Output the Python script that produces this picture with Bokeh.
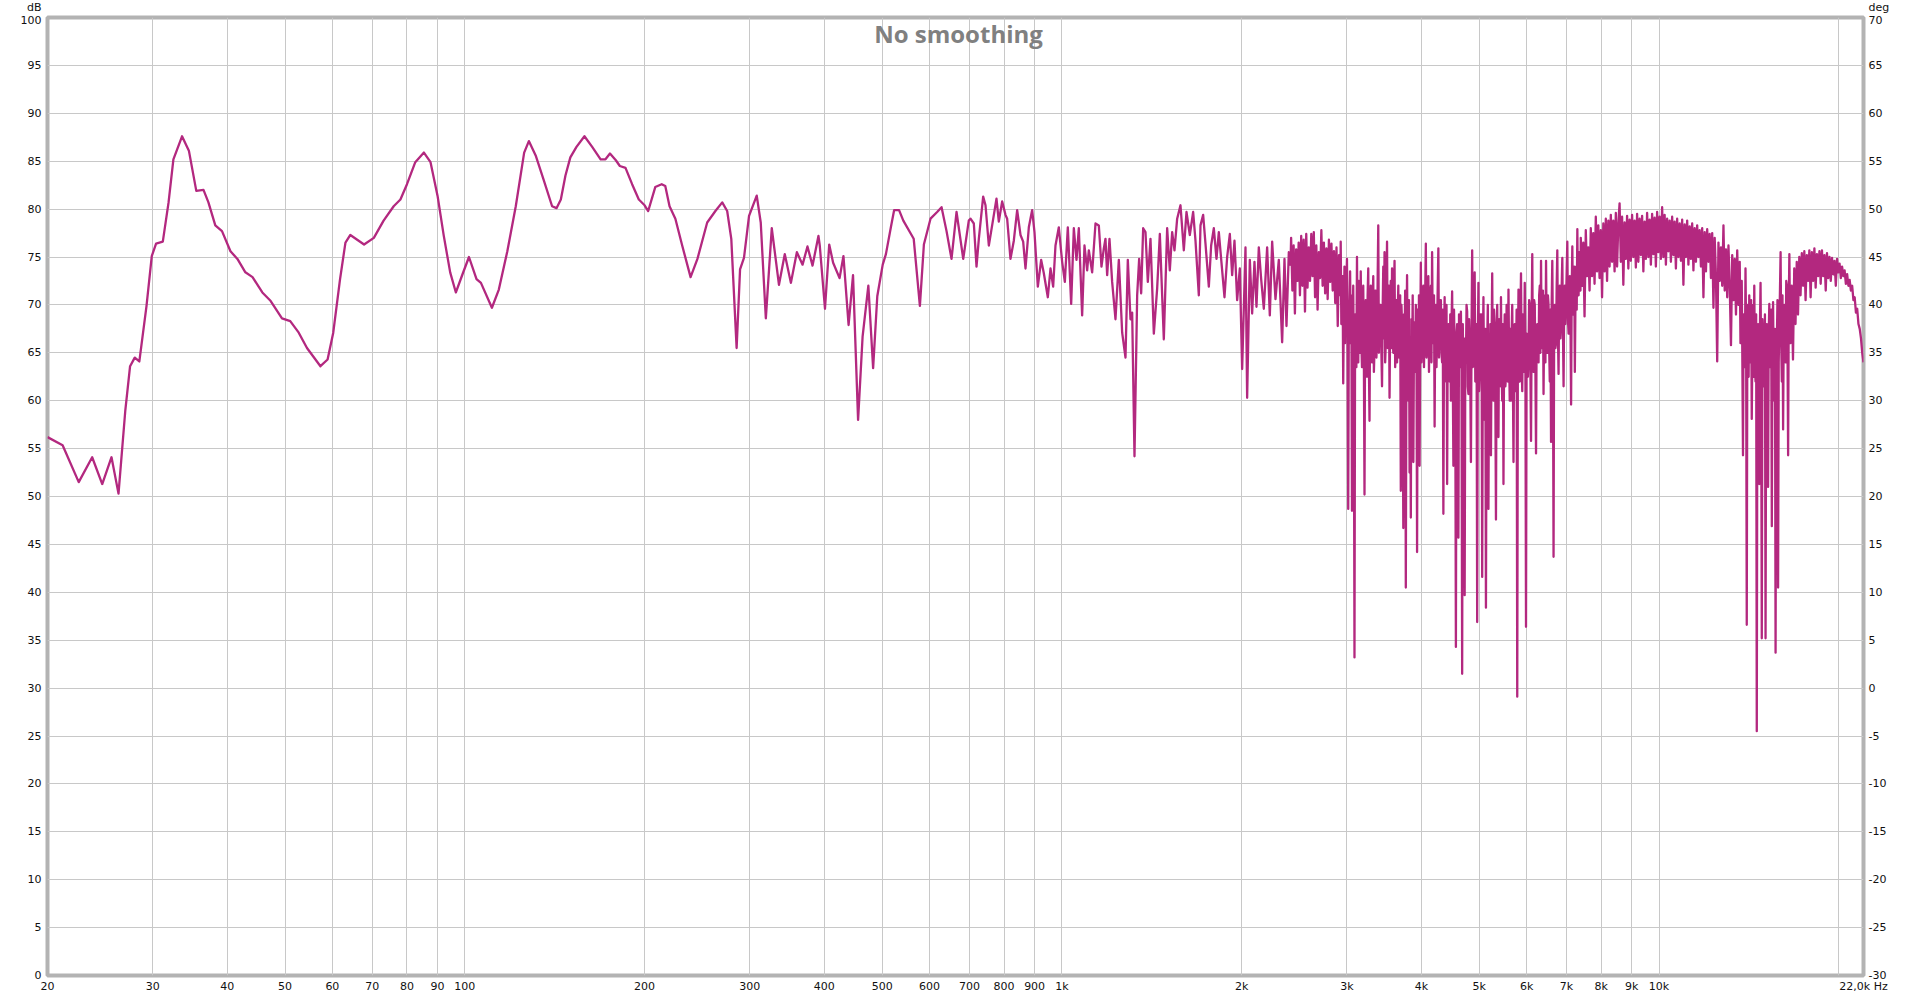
import numpy as np
from bokeh.plotting import figure
from bokeh.models import Range1d, LinearAxis, FixedTicker, Label, CustomJSTickFormatter
from bokeh.embed import file_html
from bokeh.resources import INLINE

# ---------------- data ----------------
# smooth low-frequency part: frequency (Hz) and level (dB)
lf_freq_hz = [20.0, 21.2, 22.56, 23.76, 24.7, 25.6, 26.3, 27.0, 27.5, 28.0, 28.5, 29.3, 29.9,
              30.4, 31.2, 31.9, 32.5, 33.6, 34.5, 35.5, 36.5, 37.2, 38.2, 39.2, 40.5, 41.6,
              42.9, 44.1, 45.8, 47.3, 49.4, 51.0, 52.7, 54.4, 57.3, 58.9, 60.2, 61.8, 63.1,
              64.3, 67.8, 70.4, 73.1, 76.0, 78.0, 80.0, 82.6, 85.4, 87.6, 90.0, 92.2, 94.5,
              96.6, 99.1, 101.6, 104.6, 106.4, 111.0, 114.0, 117.8, 121.7, 125.7, 128.0,
              131.4, 135.6, 140.0, 142.4, 144.8, 147.4, 150.2, 153.8, 158.6, 163.4, 168.8,
              172.0, 175.0, 179.0, 181.8, 185.8, 190.6, 195.6, 200.0, 202.8, 208.4, 213.6,
              216.6, 220.2, 225.2, 231.2, 238.8, 245.2, 254.6, 262.8, 269.8, 275.0, 279.4,
              285.2, 289.0, 293.4, 299.2, 308.2, 313.0, 319.2, 326.6, 335.8, 343.4, 351.6,
              359.8, 367.8, 374.8, 382.2, 391.0, 393.0, 401.0, 407.6, 413.8, 424.2, 430.6,
              439.2, 446.8, 455.6, 463.6, 474.0, 482.8, 490.6, 501.0, 507.2, 517.0, 523.6,
              533.6, 542.4, 564.6, 578.2, 587.2, 602.4, 618.0, 628.6, 640.8, 653.2, 666.0,
              683.4, 698.2]
lf_level_db = [56.2, 55.35, 51.5, 54.1, 51.3, 54.1, 50.3, 59.0, 63.6, 64.5, 64.1, 69.9, 75.1,
               76.4, 76.6, 80.7, 85.2, 87.6, 86.1, 81.9, 82.0, 80.7, 78.3, 77.7, 75.6, 74.8,
               73.4, 72.9, 71.3, 70.4, 68.6, 68.3, 67.1, 65.5, 63.6, 64.3, 67.1, 72.7, 76.5,
               77.3, 76.3, 77.0, 78.8, 80.3, 81.0, 82.6, 84.9, 85.9, 84.9, 81.4, 77.2, 73.4,
               71.3, 73.2, 75.0, 72.7, 72.3, 69.7, 71.6, 75.6, 80.3, 85.9, 87.1,
               85.6, 83.0, 80.3, 80.1, 81.0, 83.5, 85.4, 86.5, 87.6, 86.5, 85.2,
               85.2, 85.8, 85.1, 84.5, 84.3, 82.6, 81.0, 80.4, 79.8, 82.3, 82.6,
               82.4, 80.3, 79.0, 76.2, 72.9, 74.8, 78.6, 79.8, 80.7, 79.8, 76.9,
               65.5, 73.7, 74.9, 79.3, 81.4, 78.6, 68.6, 78.0, 72.1, 75.3, 72.3,
               75.5, 74.2, 76.1, 74.1, 77.2, 76.2, 69.6, 76.3, 74.4, 72.8, 75.1,
               67.9, 73.1, 58.0, 66.7, 72.0, 63.4, 70.9, 74.2, 75.3, 78.1, 79.9,
               79.9, 78.8, 76.9, 69.9, 76.3, 79.0, 79.7, 80.2, 77.7, 74.8, 79.7,
               74.8, 78.8]

# mid part (700 Hz - 2.4 kHz)
mid_freq_hz = [702.8, 711.9, 719.3, 725.8, 738.0, 744.7, 754.3, 764.0, 776.9, 783.9,
               794.1, 804.4, 809.5, 820.0, 830.6, 841.4, 852.3, 861.1, 868.9, 880.1,
               891.5, 899.5, 911.2, 923.0, 932.5, 947.0, 956.8, 966.7, 975.4, 988.0,
               1000.8, 1011.2, 1022.9, 1036.2, 1046.9, 1057.7, 1067.2, 1081.0, 1090.8, 1102.1,
               1109.2, 1123.5, 1138.1, 1152.8, 1164.7, 1175.3, 1182.8, 1190.5, 1201.2, 1213.6,
               1229.3, 1245.3, 1261.4, 1277.7, 1289.2, 1302.6, 1311.0, 1322.8, 1336.5, 1346.8,
               1357.3, 1367.8, 1380.1, 1392.6, 1407.0, 1425.2, 1443.6, 1458.6, 1481.2, 1500.4,
               1515.9, 1529.6, 1543.4, 1559.4, 1579.5, 1600.0, 1616.5, 1637.4, 1658.6, 1673.6,
               1695.3, 1706.2, 1723.8, 1739.4, 1761.9, 1777.8, 1796.2, 1814.8, 1831.2, 1847.7,
               1871.6, 1891.0, 1910.5, 1927.8, 1945.2, 1965.3, 1985.6, 2003.6, 2029.5, 2042.5,
               2063.7, 2082.3, 2101.1, 2117.4, 2136.5, 2155.9, 2178.1, 2206.3, 2229.1, 2249.3,
               2278.4, 2307.8, 2337.7, 2358.8, 2377.1, 2398.6, 2414.0]
mid_level_db = [79.0, 78.5, 74.0, 76.9, 81.3, 80.4, 76.2, 78.3, 81.1, 78.7,
                80.8, 79.4, 79.0, 74.8, 76.7, 79.9, 77.3, 76.6, 73.8, 78.1,
                79.9, 77.6, 71.9, 74.7, 73.3, 70.8, 73.8, 71.9, 76.2, 78.1,
                74.5, 72.4, 78.1, 70.1, 78.0, 74.7, 78.0, 68.9, 76.2, 73.6,
                75.7, 73.4, 78.5, 78.3, 74.0, 75.9, 76.9, 73.1, 76.9, 72.4,
                68.5, 74.7, 67.1, 64.5, 74.7, 68.5, 69.2, 54.2, 71.0, 74.8,
                71.2, 78.0, 77.6, 72.4, 76.9, 67.0, 71.7, 77.4, 66.4, 78.0,
                73.6, 77.6, 75.7, 79.0, 80.4, 75.7, 79.7, 77.3, 79.7, 76.7,
                71.0, 78.3, 79.4, 76.4, 71.9, 76.2, 78.0, 74.8, 77.6, 74.8,
                70.8, 75.0, 77.4, 73.1, 76.7, 70.5, 73.8, 63.3, 76.0, 60.3,
                74.7, 69.1, 74.5, 69.8, 76.0, 72.7, 69.6, 76.0, 68.9, 76.6,
                70.6, 74.7, 66.1, 74.8, 67.8, 75.5, 74.1]

# dense high-frequency parts: each list is spread evenly (log) between its limits
hf_1_start_hz, hf_1_end_hz = 2420.0, 2925.0
hf_1_level_db = [
    77.0, 71.5, 76.2, 69.1, 75.8, 72.5, 76.5, 71.0,
    77.2, 72.0, 76.8, 69.3, 77.4, 71.8, 76.0, 72.5,
    77.4, 73.0, 77.6, 70.8, 76.2, 69.5, 75.5, 72.8,
    77.8, 72.0, 76.5, 71.2, 75.9, 70.6, 76.8, 72.4,
    76.4, 71.5, 75.6, 70.2, 76.0, 67.8, 75.2, 71.0]

hf_2_start_hz, hf_2_end_hz = 2930.0, 7386.0
hf_2_level_db = [
    76.6, 68.0, 70.5, 73.0, 61.8, 69.5, 74.0, 66.0, 71.0, 72.5, 74.8, 65.0, 48.7, 69.0, 70.0, 73.5,
    66.0, 71.0, 48.5, 67.0, 72.0, 63.0, 33.2, 69.0, 68.0, 63.5, 75.0, 66.5, 64.0, 72.5, 70.5, 65.0,
    73.5, 66.0, 63.5, 70.0, 72.0, 64.5, 50.2, 68.5, 70.5, 65.5, 62.5, 71.0, 73.8, 64.0, 57.9, 69.0,
    72.0, 67.0, 64.0, 70.5, 73.0, 63.0, 65.5, 71.5, 71.5, 64.5, 66.0, 72.5, 78.3, 65.0, 68.0, 70.0,
    70.0, 65.0, 61.5, 69.5, 74.0, 66.5, 75.5, 64.0, 66.0, 71.0, 76.6, 65.5, 68.0, 72.0, 60.3, 68.5,
    72.5, 65.5, 73.8, 67.0, 65.0, 71.5, 74.6, 63.5, 66.5, 70.5, 64.0, 69.0, 72.0, 64.5, 69.0, 71.0,
    50.6, 70.0, 68.0, 62.0, 46.7, 69.0, 66.0, 71.5, 40.5, 67.0, 73.1, 63.5, 60.0, 70.5, 52.5, 66.0,
    47.8, 68.5, 64.0, 71.0, 53.6, 66.0, 68.2, 63.0, 70.0, 66.5, 44.2, 69.5, 62.0, 71.0, 53.2, 67.0,
    74.4, 64.0, 66.0, 70.5, 72.0, 63.5, 68.0, 71.5, 76.4, 64.5, 65.5, 70.0, 73.0, 63.0, 69.0, 71.0,
    72.0, 64.0, 75.5, 66.5, 66.0, 71.0, 57.3, 68.5, 70.0, 63.5, 67.5, 72.0, 75.9, 64.5, 68.0, 70.5,
    70.5, 65.0, 64.0, 69.5, 48.2, 66.0, 70.8, 63.0, 62.0, 70.0, 51.3, 67.5, 68.0, 63.5, 62.0, 69.0,
    60.0, 68.0, 71.4, 63.0, 53.2, 69.5, 65.0, 61.5, 34.3, 67.0, 68.0, 62.0, 45.7, 69.0, 66.0, 63.5,
    69.3, 63.0, 31.5, 68.0, 62.0, 66.5, 39.7, 64.5, 64.0, 70.0, 69.3, 61.5, 60.7, 68.5, 66.0, 62.5,
    53.6, 67.0, 75.7, 63.5, 64.0, 70.5, 73.4, 62.0, 62.0, 68.0, 36.9, 66.0, 72.3, 61.0, 63.0, 69.0,
    64.0, 69.0, 41.6, 65.0, 70.8, 61.5, 58.0, 67.5, 38.4, 63.0, 66.0, 70.0, 48.7, 64.5, 62.0, 68.0,
    54.3, 66.0, 73.3, 62.0, 60.0, 69.5, 68.0, 61.0, 47.6, 65.5, 70.0, 62.5, 56.2, 68.5, 66.5, 61.5,
    70.8, 63.5, 60.0, 68.0, 51.3, 65.0, 69.0, 61.5, 62.5, 70.0, 67.0, 62.0, 71.6, 64.5, 60.0, 67.5,
    60.0, 67.0, 70.0, 62.5, 53.6, 66.0, 68.0, 61.0, 64.0, 69.5, 29.1, 65.0, 71.6, 63.0, 62.0, 68.5,
    73.3, 64.0, 61.0, 69.0, 68.0, 63.0, 72.3, 65.5, 36.4, 67.0, 66.0, 62.5, 64.5, 70.5, 70.0, 63.5,
    55.8, 68.0, 75.3, 64.0, 63.0, 70.5, 70.0, 63.5, 54.5, 67.5, 68.0, 64.5, 64.0, 71.0, 72.0, 65.0,
    74.6, 65.5, 66.0, 71.5, 60.7, 68.0, 71.0, 64.0, 74.6, 66.5, 65.0, 71.0, 70.0, 65.5, 62.0, 69.5,
    55.7, 70.0, 74.6, 66.0, 43.7, 69.5, 70.0, 65.5, 66.0, 72.0, 75.7, 67.0, 62.8, 71.0, 72.0, 66.5,
    68.0, 72.0, 74.9, 67.5, 61.5, 70.5, 72.0, 68.0, 70.4, 73.5, 76.6, 68.5, 67.0, 72.5, 73.0, 69.0,
    59.6, 71.5, 76.1, 69.0, 70.0, 74.0, 63.0, 70.5, 74.0, 69.5, 77.9, 71.0, 71.0, 75.5, 75.0, 71.5]

hf_3_start_hz, hf_3_end_hz = 7395.0, 13650.0
hf_3_level_db = [
    77.0, 72.0, 76.5, 68.8, 77.8, 73.0, 76.0, 71.5,
    78.0, 73.0, 77.5, 72.2, 79.2, 73.5, 78.3, 72.8,
    77.8, 70.8, 78.5, 73.5, 79.0, 72.5, 78.8, 74.0,
    79.4, 74.5, 78.8, 73.5, 79.6, 74.0, 78.5, 80.6,
    74.5, 79.2, 72.1, 78.6, 74.8, 79.3, 73.8, 78.9,
    74.6, 79.4, 75.0, 78.8, 73.9, 79.5, 74.5, 79.0,
    75.2, 79.3, 73.5, 78.7, 74.8, 79.6, 75.0, 78.9,
    74.2, 79.5, 75.3, 79.1, 74.0, 79.7, 75.5, 79.2,
    74.8, 80.2, 75.0, 79.4, 74.2, 79.0, 75.6, 78.8,
    74.5, 79.2, 75.2, 78.7, 73.8, 79.0, 75.0, 78.5,
    74.6, 78.9, 72.1, 78.4, 75.0, 78.8, 74.2, 78.2,
    74.8, 78.5, 73.6, 78.0, 74.5, 78.3, 75.0, 77.8,
    74.0, 78.0, 70.8, 77.6, 73.5, 77.9, 74.5, 77.4,
    72.8, 77.5, 69.7, 77.0, 73.0, 64.1, 76.5, 72.5,
    76.0, 72.0, 78.3, 71.5, 75.8, 70.8, 76.2, 72.0,
    65.8, 75.2, 70.5, 74.8, 69.0, 75.7, 70.0, 74.5]

hf_4_start_hz, hf_4_end_hz = 13690.0, 16570.0
hf_4_level_db = [
    66.0, 70.5, 72.5, 64.0, 54.3, 69.0, 68.0, 63.5, 73.8, 67.0, 36.6, 70.0, 66.0, 62.5, 71.0, 66.5,
    64.0, 70.5, 58.1, 66.0, 70.0, 62.5, 72.0, 64.0, 62.0, 69.0, 25.5, 66.5, 68.0, 61.0, 51.3, 67.5,
    72.3, 63.0, 35.2, 68.5, 66.0, 61.5, 62.0, 69.0, 35.2, 64.5, 68.0, 62.0, 51.0, 67.0, 70.1, 63.5,
    64.0, 69.5, 46.9, 66.0, 70.3, 62.0, 60.0, 67.5, 33.7, 65.0, 66.0, 70.5, 40.5, 64.0, 68.0, 71.5,
    75.5, 66.0, 62.0, 71.0, 57.0, 67.5, 70.0, 65.0, 64.0, 72.5, 72.0, 66.0, 54.3, 70.0, 75.3, 68.0]

hf_5_start_hz, hf_5_end_hz = 16600.0, 22000.0
hf_5_level_db = [
    66.0, 72.0, 64.3, 73.8, 68.0, 74.5, 69.0, 75.0,
    71.0, 75.4, 72.0, 75.6, 70.5, 75.2, 72.5, 75.7,
    70.8, 75.5, 72.5, 75.9, 71.8, 75.3, 73.0, 75.6,
    72.2, 75.7, 73.0, 75.2, 71.5, 75.4, 72.8, 75.0,
    72.5, 74.9, 73.2, 74.6, 72.0, 74.8, 73.4, 74.3,
    72.8, 74.0, 73.0, 73.6, 72.2, 73.2, 72.0, 72.6,
    71.5, 72.0, 70.5, 70.8, 69.2, 69.6, 68.0, 67.5, 66.5, 65.0, 64.0]

# axis ticks / labels
freq_ticks = [20, 30, 40, 50, 60, 70, 80, 90, 100, 200, 300, 400, 500, 600, 700, 800, 900,
              1000, 2000, 3000, 4000, 5000, 6000, 7000, 8000, 9000, 10000, 20000, 22000]
freq_labels = ["20", "30", "40", "50", "60", "70", "80", "90", "100", "200", "300", "400",
               "500", "600", "700", "800", "900", "1k", "2k", "3k", "4k", "5k", "6k", "7k",
               "8k", "9k", "10k", "", "22,0k Hz"]
db_ticks = [0, 5, 10, 15, 20, 25, 30, 35, 40, 45, 50, 55, 60, 65, 70, 75, 80, 85, 90, 95, 100]
deg_ticks = [-30, -25, -20, -15, -10, -5, 0, 5, 10, 15, 20, 25, 30, 35, 40, 45, 50, 55, 60, 65, 70]
db_unit, deg_unit = "dB", "deg"

# ---------------- assemble series ----------------
low_freq = np.concatenate([np.array(lf_freq_hz), np.array(mid_freq_hz)])
low_level = np.concatenate([lf_level_db, mid_level_db])
hf_parts = [(hf_1_start_hz, hf_1_end_hz, hf_1_level_db),
            (hf_2_start_hz, hf_2_end_hz, hf_2_level_db),
            (hf_3_start_hz, hf_3_end_hz, hf_3_level_db),
            (hf_4_start_hz, hf_4_end_hz, hf_4_level_db),
            (hf_5_start_hz, hf_5_end_hz, hf_5_level_db)]
high_freq = np.concatenate([[mid_freq_hz[-1]]] +
                           [np.geomspace(a, b, len(v)) for a, b, v in hf_parts])
high_level = np.concatenate([[mid_level_db[-1]]] + [np.array(v) for _, _, v in hf_parts])

# ---------------- figure ----------------
TICK_FONT = "DejaVu Sans"
TICK_COLOR = "#111111"
p = figure(width=1910, height=995, x_axis_type="log",
           x_range=Range1d(20, 22000), y_range=Range1d(0, 100),
           output_backend="svg", toolbar_location=None,
           min_border_left=47, min_border_right=47, min_border_top=17, min_border_bottom=20)
p.background_fill_color = "white"
p.border_fill_color = "white"
p.outline_line_color = "#b3b3b3"
p.outline_line_width = 4

x_axis = p.below[0]
db_axis = p.left[0]
p.extra_y_ranges = {"deg": Range1d(-30, 70)}
deg_axis = LinearAxis(y_range_name="deg")
p.add_layout(deg_axis, "right")

for ax in (x_axis, db_axis, deg_axis):
    ax.axis_line_color = None
    ax.major_tick_line_color = None
    ax.minor_tick_line_color = None
    ax.major_tick_out = 0
    ax.major_tick_in = 0
    ax.minor_tick_out = 0
    ax.minor_tick_in = 0
    ax.major_label_text_font = TICK_FONT
    ax.major_label_text_font_size = "11px"
    ax.major_label_text_color = TICK_COLOR
    ax.major_label_text_line_height = 1.0

x_axis.ticker = FixedTicker(ticks=freq_ticks)
x_axis.major_label_overrides = {t: l for t, l in zip(freq_ticks, freq_labels)}
x_axis.major_label_standoff = 4

# unit names sit above the top tick labels of each vertical axis
db_axis.ticker = FixedTicker(ticks=db_ticks)
db_axis.major_label_overrides = {db_ticks[-1]: db_unit + "\n" + str(db_ticks[-1]) + "\n\u00a0"}
db_axis.major_label_standoff = 6
deg_axis.ticker = FixedTicker(ticks=deg_ticks)
deg_axis.formatter = CustomJSTickFormatter(
    args=dict(top=deg_ticks[-1], unit=deg_unit),
    code="return (tick == top) ? (unit + '\\n' + String(tick) + '\\n\\u00a0') : String(tick);")
deg_axis.major_label_standoff = 5

p.xgrid.grid_line_color = "#c8c8c8"
p.ygrid.grid_line_color = "#c8c8c8"
p.xgrid.grid_line_width = 1
p.ygrid.grid_line_width = 1

CURVE = "#B3287F"
p.line(low_freq, low_level, line_color=CURVE, line_width=2.3, line_join="round")
p.line(high_freq, high_level, line_color=CURVE, line_width=2.3, line_join="round")

p.add_layout(Label(x=663.3, y=100, text="No smoothing", text_align="center",
                   text_baseline="top", x_offset=3, y_offset=1, text_font="Open Sans",
                   text_font_style="bold", text_font_size="24px", text_color="#808080"))

open("out.html", "w").write(file_html(p, INLINE))
